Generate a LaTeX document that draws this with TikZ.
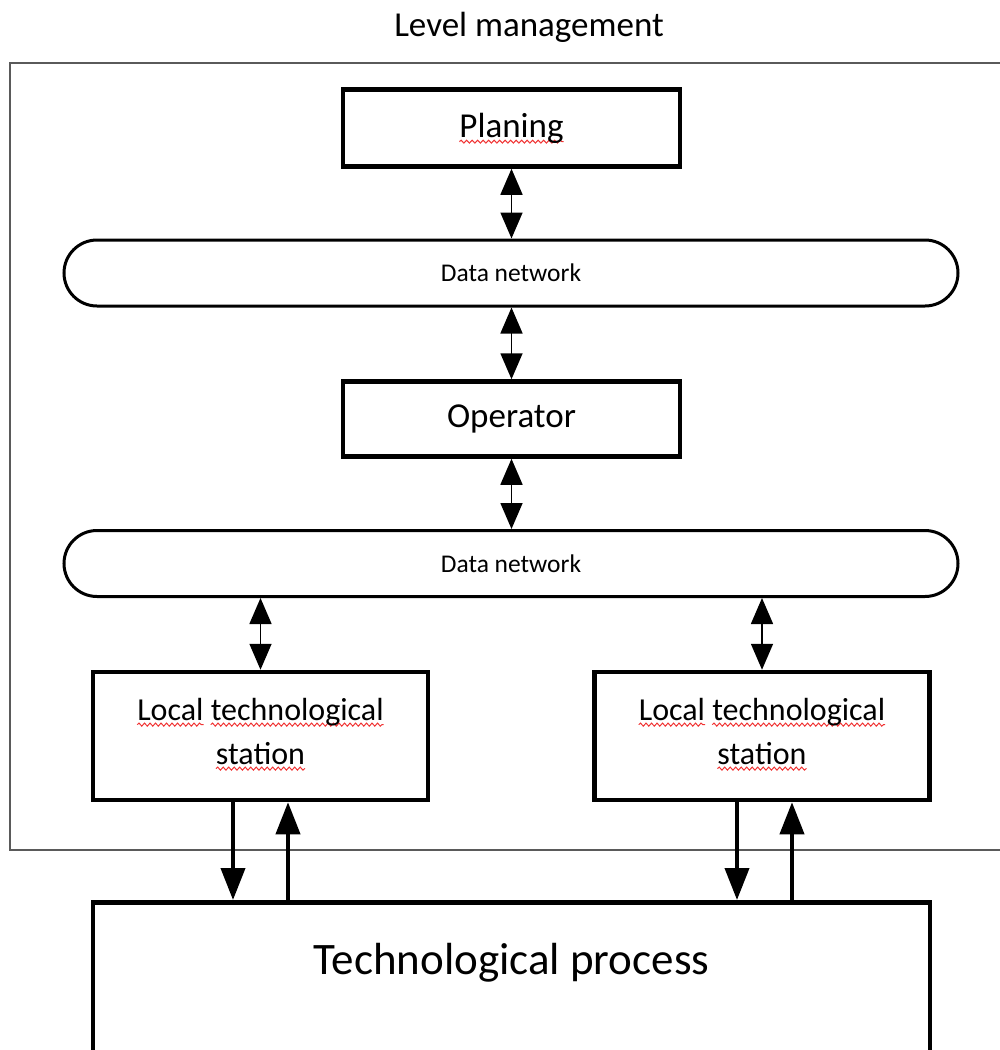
\documentclass[tikz,border=0pt]{standalone}
\usepackage{fontspec}
\setmainfont{Carlito}
\usetikzlibrary{arrows.meta,decorations.pathmorphing}
\definecolor{squigred}{RGB}{240,50,50}
\definecolor{framegray}{RGB}{90,90,90}
\newcommand\redwave[1]{\setbox0\hbox{#1}\rlap{\tikz[baseline=0pt,x=1pt,y=1pt]{\path[use as bounding box] (0pt,0pt) rectangle (0pt,0pt);\draw[overlay,draw=squigred,line width=1pt,rounded corners=0pt,decorate,decoration={snake,amplitude=1.5pt,segment length=5.5pt}] (0pt,-4.5pt) -- (\the\wd0,-4.5pt);}}\box0\relax}
\begin{document}
\begin{tikzpicture}[x=1pt,y=-1pt,
  box/.style={draw, line width=4.5pt, inner sep=0pt, align=center},
  net/.style={draw, line width=3pt, rounded corners=33pt, minimum width=894pt, minimum height=66pt,
    font=\fontsize{25.5}{30}\selectfont},
  big/.style={font=\fontsize{35}{42}\selectfont},
  ltsbox/.style={box, minimum width=335pt, minimum height=128pt, text depth=10pt, font=\fontsize{32}{44}\selectfont},
  dbl/.style={line width=1.6pt, {Triangle[width=22pt,length=26pt]}-{Triangle[width=22pt,length=26pt]}},
  thk/.style={line width=4pt, -{Triangle[width=24pt,length=32pt]}},
  frame/.style={draw=framegray, line width=1.3pt}]
\useasboundingbox (0,0) rectangle (1000,1050);
\clip (0,0) rectangle (1000,1050);
% outer frame
\draw[frame] (10,63) rectangle (1004,850);
% title
\node[big] (title) at (529,27) {Level management};
% boxes
\node[box, big, minimum width=337pt, minimum height=77pt] (plan) at (511.5,128) {\redwave{Planing}};
\node[net] (dn1) at (511,273) {Data network};
\node[box, big, minimum width=337pt, minimum height=75pt] (oper) at (511.5,419) {Operator};
\node[net] (dn2) at (511,563.5) {Data network};
\node[ltsbox] (ltsL) at (260.5,736) {\redwave{Local} \redwave{technological}\\\redwave{station}};
\node[ltsbox] (ltsR) at (762,736) {\redwave{Local} \redwave{technological}\\\redwave{station}};
\node[box, minimum width=837pt, minimum height=200pt, anchor=north] (tech) at (511.5,900) {};
\node[font=\fontsize{45}{54}\selectfont] (techlabel) at (511.5,963) {Technological process};
% connectors
\draw[dbl] (plan.south) -- (plan.south |- dn1.north);
\draw[dbl] (dn1.south -| oper.north) -- (oper.north);
\draw[dbl] (oper.south) -- (oper.south |- dn2.north);
\draw[dbl] (ltsL.north |- dn2.south) -- (ltsL.north);
\draw[dbl] (ltsR.north |- dn2.south) -- (ltsR.north);
\draw[thk] ([xshift=-27.5pt]ltsL.south) -- ([xshift=-27.5pt]ltsL.south |- tech.north);
\draw[thk] ([xshift=27.5pt]ltsL.south |- tech.north) -- ([xshift=27.5pt]ltsL.south);
\draw[thk] ([xshift=-25pt]ltsR.south) -- ([xshift=-25pt]ltsR.south |- tech.north);
\draw[thk] ([xshift=30pt]ltsR.south |- tech.north) -- ([xshift=30pt]ltsR.south);
\end{tikzpicture}
\end{document}
